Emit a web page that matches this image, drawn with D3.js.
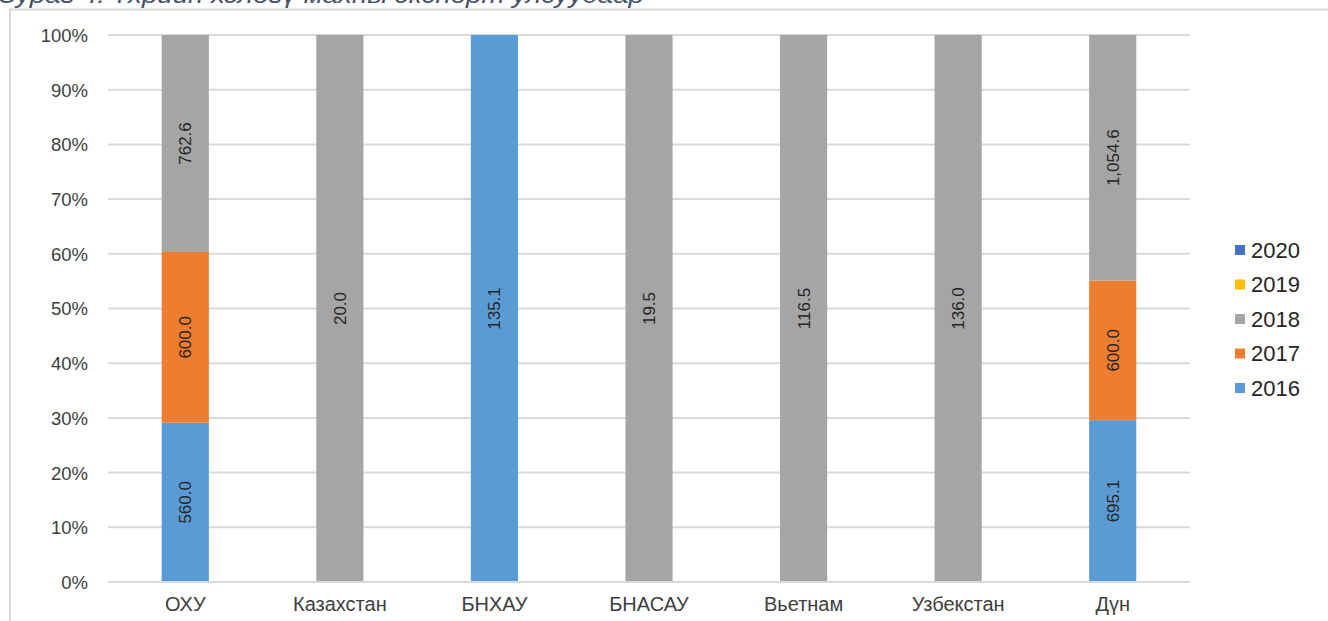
<!DOCTYPE html>
<html><head><meta charset="utf-8">
<script src="https://cdn.jsdelivr.net/npm/d3@7"></script>
<style>body{margin:0;background:#fff;} svg{display:block;}</style>
</head><body>
<svg id="c" width="1328" height="621"></svg>
<script>
const titleText = "Зураг 4. Үхрийн хэлөгү махны экспорт улсуудаар";
const categories = ["ОХУ","Казахстан","БНХАУ","БНАСАУ","Вьетнам","Узбекстан","Дүн"];
const seriesNames = ["2016","2017","2018","2019","2020"];
const v2016 = [560.0, 0, 135.1, 0, 0, 0, 695.1];
const v2017 = [600.0, 0, 0, 0, 0, 0, 600.0];
const v2018 = [762.6, 20.0, 0, 19.5, 116.5, 136.0, 1054.6];
const v2019 = [0, 0, 0, 0, 0, 0, 0];
const v2020 = [0, 0, 0, 0, 0, 0, 0];
const labels2016 = ["560.0", "", "135.1", "", "", "", "695.1"];
const labels2017 = ["600.0", "", "", "", "", "", "600.0"];
const labels2018 = ["762.6", "20.0", "", "19.5", "116.5", "136.0", "1,054.6"];
const yTicks = [0,0.1,0.2,0.3,0.4,0.5,0.6,0.7,0.8,0.9,1];
const colors = {"2016":"#5B9BD5","2017":"#ED7D31","2018":"#A5A5A5","2019":"#FFC000","2020":"#4472C4"};

(function(){
const values = {"2016":v2016,"2017":v2017,"2018":v2018,"2019":v2019,"2020":v2020};
const labelsBy = {"2016":labels2016,"2017":labels2017,"2018":labels2018,"2019":[],"2020":[]};

const svg = d3.select("#c");
const font = "'Liberation Sans', Arial, sans-serif";

svg.append("rect").attr("x",10).attr("y",9.5).attr("width",1330).attr("height",620)
  .attr("fill","none").attr("stroke","#d9d9d9").attr("stroke-width",2);
svg.append("text").attr("x",-1).attr("y",3).text(titleText)
  .attr("font-family",font).attr("font-style","italic").attr("font-size",23)
  .attr("textLength",645).attr("lengthAdjust","spacingAndGlyphs")
  .attr("fill","#44546A");

const pL = 108, pR = 1190, pT = 35, pB = 582;
const x = d3.scaleBand().domain(categories).range([pL,pR]).paddingInner(0.695).paddingOuter(0.3475);
const y = d3.scaleLinear().domain([0,1]).range([pB,pT]);

svg.append("g").selectAll("line").data(yTicks).join("line")
  .attr("x1",pL).attr("x2",pR).attr("y1",d=>y(d)).attr("y2",d=>y(d))
  .attr("stroke","#d9d9d9").attr("stroke-width",2);

const yAxis = d3.axisLeft(y).tickValues(yTicks).tickFormat(d3.format(".0%")).tickSize(0).tickPadding(0);
const ya = svg.append("g").attr("transform",`translate(88,0)`).call(yAxis);
ya.select(".domain").remove();
ya.selectAll("text").attr("font-family",font).attr("font-size",18.5).attr("fill","#404040").attr("dy","0.35em");

const xAxis = d3.axisBottom(x).tickSize(0).tickPadding(0);
const xa = svg.append("g").attr("transform",`translate(0,597)`).call(xAxis);
xa.select(".domain").remove();
xa.selectAll("text").attr("font-family",font).attr("font-size",20).attr("fill","#404040").attr("dy","0.72em");

const rows = categories.map((c,i)=>{const r={cat:c}; seriesNames.forEach(s=>r[s]=values[s][i]); return r;});
const stack = d3.stack().keys(seriesNames).offset(d3.stackOffsetExpand);
const layers = stack(rows);

const g = svg.append("g");
layers.forEach(layer=>{
  const s = layer.key;
  layer.forEach((d,i)=>{
    if (d[1]-d[0] <= 0) return;
    g.append("rect").attr("x",x(categories[i])).attr("width",x.bandwidth())
      .attr("y",y(d[1])).attr("height",y(d[0])-y(d[1])).attr("fill",colors[s]);
    const lab = labelsBy[s][i];
    if (lab) {
      const cx = x(categories[i])+x.bandwidth()/2, cy = (y(d[0])+y(d[1]))/2;
      g.append("text").attr("transform",`translate(${cx},${cy}) rotate(-90)`)
        .attr("text-anchor","middle").attr("dy","0.35em")
        .attr("font-family",font).attr("font-size",17).attr("fill","#262626").text(lab);
    }
  });
});

svg.append("line").attr("x1",pL).attr("x2",pR).attr("y1",pB).attr("y2",pB)
  .attr("stroke","#d9d9d9").attr("stroke-width",2);

const legendOrder = ["2020","2019","2018","2017","2016"];
const leg = svg.append("g").selectAll("g").data(legendOrder).join("g")
  .attr("transform",(d,i)=>`translate(1235,${250+i*34.5})`);
leg.append("rect").attr("x",0).attr("y",-5).attr("width",10).attr("height",10).attr("fill",d=>colors[d]);
leg.append("text").attr("x",16).attr("dy","0.35em").text(d=>d)
  .attr("font-family",font).attr("font-size",22).attr("fill","#262626");
})();
</script>
</body></html>
